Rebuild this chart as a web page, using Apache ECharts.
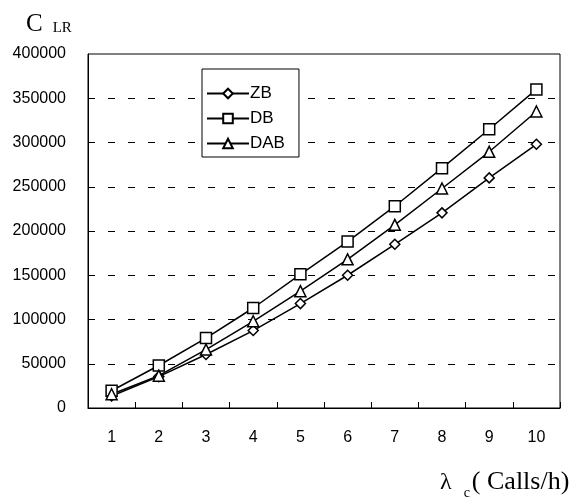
<!DOCTYPE html>
<html>
<head>
<meta charset="utf-8">
<script src="https://cdn.jsdelivr.net/npm/echarts@6/dist/echarts.min.js"></script>
<style>
html,body{margin:0;padding:0;background:#fff;}
#chart_div{width:578px;height:497px;}
</style>
</head>
<body>
<div id="chart_div"></div>
<script>
var categories = ["1", "2", "3", "4", "5", "6", "7", "8", "9", "10"];
var zbValues = [13500, 35500, 60500, 87500, 118000, 150000, 185000, 220500, 260000, 298000];
var dbValues = [19500, 48000, 79000, 113000, 151000, 188000, 228000, 271000, 315000, 360000];
var dabValues = [15500, 36500, 66000, 98000, 132000, 168000, 207000, 248000, 289500, 335000];

var chart;

function makeSeries(name, symbol, size, values) {
	return {
		name : name,
		type : 'line',
		data : values,
		symbol : symbol,
		symbolSize : size,
		showAllSymbol : true,
		lineStyle : {
			color : '#000',
			width : 1.5
		},
		itemStyle : {
			color : '#fff',
			borderColor : '#000',
			borderWidth : 1.5
		},
		z : 3
	};
}

function initChart() {
	chart = echarts.init(document.getElementById("chart_div"), null, {renderer : 'canvas'});
	var option = {
		animation : false,
		backgroundColor : '#fff',
		textStyle : {
			fontFamily : 'Liberation Sans, Arial, sans-serif',
			color : '#000'
		},
		title : [ {
			left : 21,
			top : 7,
			text : '{c|C}{s|LR}',
			textStyle : {
				rich : {
					c : {fontFamily : 'Liberation Serif', fontSize : 25, fontWeight : 'normal', color : '#000', verticalAlign : 'bottom'},
					s : {fontFamily : 'Liberation Serif', fontSize : 15, fontWeight : 'normal', color : '#000', verticalAlign : 'bottom', padding : [0, 0, 1, 10]}
				}
			}
		}, {
			left : 435,
			top : 464,
			text : '{l|λ}{s|c}{t|( Calls/h)}',
			textStyle : {
				rich : {
					l : {fontFamily : 'Liberation Serif', fontSize : 24, fontWeight : 'normal', color : '#000', verticalAlign : 'bottom'},
					s : {fontFamily : 'Liberation Serif', fontSize : 14, fontWeight : 'normal', color : '#000', verticalAlign : 'bottom', padding : [0, 2, -5, 12]},
					t : {fontFamily : 'Liberation Serif', fontSize : 26, fontWeight : 'normal', color : '#000', verticalAlign : 'bottom'}
				}
			}
		} ],
		legend : {
			orient : 'vertical',
			left : 202,
			top : 69,
			data : ['ZB', 'DB', 'DAB'],
			itemWidth : 42,
			itemHeight : 12,
			itemGap : 8,
			padding : [16, 14, 5, 4],
			backgroundColor : '#fff',
			borderColor : '#000',
			borderWidth : 1,
			borderRadius : 0,
			textStyle : {
				fontSize : 17,
				color : '#000',
				padding : [0, 0, 0, -4]
			}
		},
		grid : {
			left : 88,
			right : 18,
			top : 54,
			bottom : 89,
			show : true,
			borderColor : '#000',
			borderWidth : 1,
			containLabel : false
		},
		xAxis : {
			type : 'category',
			data : categories,
			boundaryGap : true,
			axisLine : {lineStyle : {color : '#000', width : 1}},
			axisTick : {
				show : true,
				inside : true,
				length : 6,
				interval : 0,
				lineStyle : {color : '#000'}
			},
			axisLabel : {
				margin : 22,
				fontSize : 16,
				color : '#000',
				interval : 0
			},
			splitLine : {show : false}
		},
		yAxis : {
			type : 'value',
			min : 0,
			max : 400000,
			interval : 50000,
			axisLine : {show : true, lineStyle : {color : '#000', width : 1}},
			axisTick : {show : false},
			axisLabel : {
				margin : 22,
				fontSize : 16,
				color : '#000',
				formatter : function(value) {
					return String(value);
				}
			},
			splitLine : {
				show : true,
				showMinLine : false,
				showMaxLine : false,
				lineStyle : {color : '#000', type : [7, 13], width : 1}
			}
		},
		series : [
			makeSeries('ZB', 'diamond', 10, zbValues),
			makeSeries('DB', 'rect', 11, dbValues),
			makeSeries('DAB', 'triangle', 11, dabValues)
		]
	};
	chart.setOption(option);
}

initChart();
</script>
</body>
</html>
